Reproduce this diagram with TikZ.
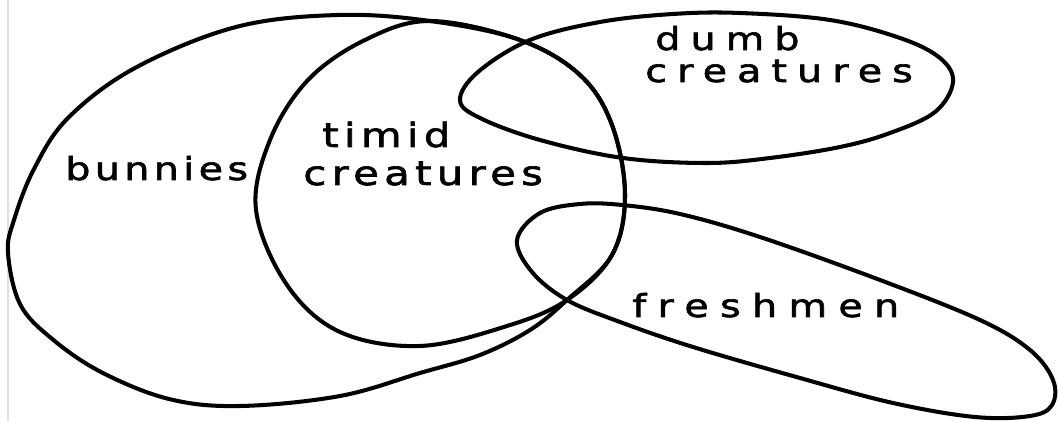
\documentclass[tikz,border=0pt]{standalone}
\usepackage{fontspec}
\newfontfamily\handA[LetterSpace=14,FakeStretch=1.25,FakeBold=2]{DejaVu Sans}
\newfontfamily\handT[LetterSpace=16,FakeStretch=1.25,FakeBold=2]{DejaVu Sans}
\newfontfamily\handD[LetterSpace=32,FakeStretch=1.25,FakeBold=2]{DejaVu Sans}
\newfontfamily\handF[LetterSpace=36,FakeStretch=1.25,FakeBold=2]{DejaVu Sans}
\begin{document}
\begin{tikzpicture}[x=0.02cm,y=-0.02cm,
  loop/.style={draw=black,line width=2.3pt,line join=round,line cap=round},
  lbl/.style={anchor=base west,inner sep=0pt,text=black}]
\useasboundingbox (0,0) rectangle (1058,421);
\fill[white] (0,0) rectangle (1058,421);
\draw[black!12,line width=0.8pt] (8,0) -- (8,421);
% bunnies (shares the right arc of the timid loop)
\draw[loop] plot[smooth cycle,tension=0.6] coordinates {
  (430,21) (520,40) (580,75) (612,125) (625,195) (612,255) (567,300)
  (530,330) (480,355) (420,373) (340,396) (240,406) (169,399) (101,372)
  (51,338) (20,304) (8,253) (14,220) (34,169) (68,118) (135,68) (236,27) (338,15)};
% timid creatures
\draw[loop] plot[smooth cycle,tension=0.6] coordinates {
  (430,21) (520,40) (580,75) (612,125) (625,195) (612,255) (567,300)
  (507,326) (420,346) (340,332) (287,285) (256,210) (270,140) (308,80) (365,40)};
% dumb creatures
\draw[loop] plot[smooth cycle,tension=0.6] coordinates {
  (460,100) (478,72) (530,40) (600,22) (673,14) (740,13) (830,20) (900,38)
  (940,58) (953,82) (935,112) (890,133) (840,147) (770,158) (707,163)
  (623,158) (540,140) (480,118)};
% freshmen
\draw[loop] plot[smooth cycle,tension=0.6] coordinates {
  (517,240) (540,213) (580,204) (622,205) (680,214) (760,237) (880,280)
  (980,320) (1030,350) (1053,380) (1052,405) (1030,416) (975,417)
  (893,403) (800,378) (693,347) (620,322) (567,300) (532,272)};
% labels
\node[lbl,font=\handA\fontsize{18}{20}\selectfont] (bun) at (65,180) {bunnies};
\node[lbl,font=\handT\fontsize{19}{21}\selectfont] (tim) at (322,147) {timid};
\node[lbl,font=\handT\fontsize{19}{21}\selectfont] (tcr) at (303,185) {creatures};
\node[lbl,font=\handD\fontsize{18}{20}\selectfont] (dum) at (655,50) {dumb};
\node[lbl,font=\handD\fontsize{18}{20}\selectfont] (dcr) at (645,82) {creatures};
\node[lbl,font=\handF\fontsize{18}{20}\selectfont] (fre) at (632,317) {freshmen};
\end{tikzpicture}
\end{document}
